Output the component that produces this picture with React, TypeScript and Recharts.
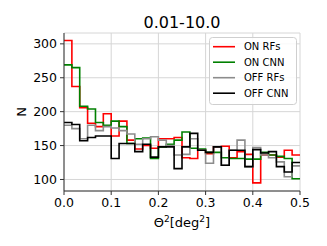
import React from 'react';
import { LineChart, Line, XAxis, YAxis, CartesianGrid } from 'recharts';

const binEdges = [
  0, 0.0167, 0.0333, 0.05, 0.0667, 0.0833, 0.1, 0.1167, 0.1333, 0.15,
  0.1667, 0.1833, 0.2, 0.2167, 0.2333, 0.25, 0.2667, 0.2833, 0.3, 0.3167,
  0.3333, 0.35, 0.3667, 0.3833, 0.4, 0.4167, 0.4333, 0.45, 0.4667, 0.4833, 0.5,
];

const onRFs = [
  305, 237, 206, 183, 178, 197, 164, 186, 158, 145,
  150, 146, 160, 160, 162, 132, 131, 143, 138, 148,
  149, 132, 141, 137, 95, 136, 136, 133, 143, 136,
];
const onCNN = [
  269, 265, 208, 204, 184, 180, 186, 178, 153, 160,
  161, 131, 148, 152, 158, 170, 146, 145, 140, 140,
  132, 131, 131, 130, 130, 140, 136, 134, 131, 101,
];
const offRFs = [
  180, 175, 160, 180, 172, 178, 176, 172, 167, 152,
  160, 163, 158, 150, 136, 137, 160, 143, 124, 148,
  121, 143, 158, 119, 147, 136, 132, 126, 104, 120,
];
const offCNN = [
  184, 181, 157, 162, 164, 164, 131, 153, 153, 141,
  152, 133, 148, 148, 116, 148, 168, 143, 140, 148,
  121, 143, 143, 119, 144, 139, 141, 119, 111, 125,
];

const xTicks = [0, 0.1, 0.2, 0.3, 0.4, 0.5];
const yTicks = [100, 150, 200, 250, 300];
const titleText = '0.01-10.0';
const yLabel = 'N';

const series = [
  { key: 'onRFs', name: 'ON RFs', color: '#ff0000', values: onRFs },
  { key: 'onCNN', name: 'ON CNN', color: '#008000', values: onCNN },
  { key: 'offRFs', name: 'OFF RFs', color: '#8c8c8c', values: offRFs },
  { key: 'offCNN', name: 'OFF CNN', color: '#000000', values: offCNN },
];

const data = binEdges.map((x, i) => {
  const row: Record<string, number> = { x };
  series.forEach((s) => {
    row[s.key] = s.values[Math.min(i, s.values.length - 1)];
  });
  return row;
});

const FONT = 'DejaVu Sans, sans-serif';

export default function App() {
  return (
    <div style={{ position: 'absolute', left: 0, top: 0, width: 327, height: 246, background: '#fff', fontFamily: FONT }}>
      <LineChart
        width={327}
        height={246}
        data={data}
        margin={{ top: 33, right: 27, bottom: 0, left: 0 }}
      >
        <CartesianGrid stroke="#d6d6d6" strokeWidth={1} vertical horizontal />
        <XAxis
          dataKey="x"
          type="number"
          domain={[0, 0.5]}
          ticks={xTicks}
          tickFormatter={(v: number) => v.toFixed(1)}
          height={55}
          tickSize={4}
          tickMargin={3}
          stroke="#333"
          tick={{ fill: '#000', fontSize: 12.5, fontFamily: FONT }}
          interval={0}
          allowDataOverflow
        />
        <XAxis xAxisId="top" orientation="top" dataKey="x" type="number" domain={[0, 0.5]} height={0} tick={false} tickLine={false} stroke="#333" />
        <YAxis
          type="number"
          domain={[83, 316]}
          ticks={yTicks}
          width={64}
          tickSize={4}
          tickMargin={3}
          stroke="#333"
          tick={{ fill: '#000', fontSize: 12.5, fontFamily: FONT }}
          interval={0}
          allowDataOverflow
        />
        <YAxis yAxisId="right" orientation="right" domain={[83, 316]} width={0} tick={false} tickLine={false} stroke="#333" />
        {series.map((s) => (
          <Line
            key={s.key}
            dataKey={s.key}
            name={s.name}
            type="stepAfter"
            stroke={s.color}
            strokeWidth={1.6}
            dot={false}
            activeDot={false}
            isAnimationActive={false}
          />
        ))}
      </LineChart>
      <svg width={327} height={246} style={{ position: 'absolute', left: 0, top: 0, pointerEvents: 'none' }}>
        <text x={182} y={28} textAnchor="middle" fontSize={16} fontFamily={FONT} fill="#000">{titleText}</text>
        <text x={0} y={0} transform="translate(26,112) rotate(-90)" textAnchor="middle" fontSize={13} fontFamily={FONT} fill="#000">{yLabel}</text>
        <text x={182} y={227} textAnchor="middle" fontSize={13} fontFamily={FONT} fill="#000">
          Θ<tspan fontSize={9} dy={-5}>2</tspan><tspan dy={5}>[deg</tspan><tspan fontSize={9} dy={-5}>2</tspan><tspan dy={5}>]</tspan>
        </text>
        <rect x={209.5} y={37.5} width={87} height={67} rx={3} fill="#fff" fillOpacity={0.85} stroke="#cfcfcf" />
        {series.map((s, i) => (
          <g key={s.key}>
            <line x1={213} x2={235} y1={46.7 + i * 15.5} y2={46.7 + i * 15.5} stroke={s.color} strokeWidth={1.6} />
            <text x={244} y={46.7 + i * 15.5 + 3.6} fontSize={10} fontFamily={FONT} fill="#000">{s.name}</text>
          </g>
        ))}
      </svg>
    </div>
  );
}
